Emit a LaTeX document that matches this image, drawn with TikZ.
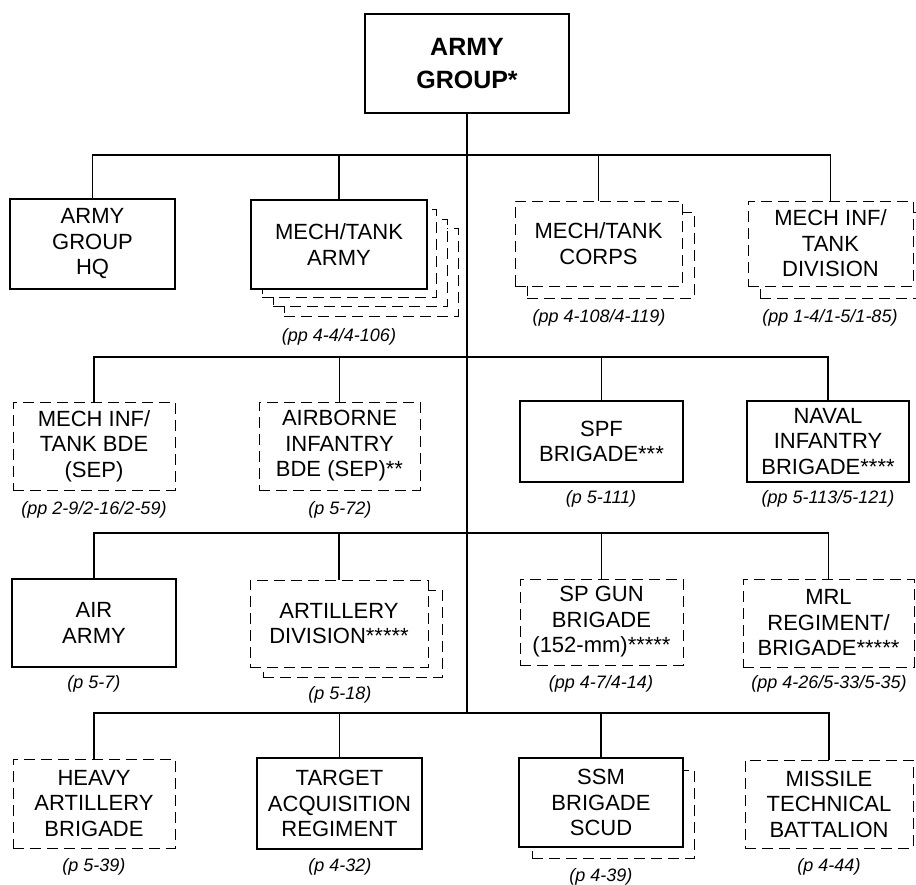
\documentclass[tikz,border=0pt]{standalone}
\usepackage{fontspec}
\setmainfont{Liberation Sans}
\newcommand{\bx}[7]{\node[#1, minimum width={#5-#3}, minimum height={#6-#4}] (#2) at ({(#3+#5)/2},{(#4+#6)/2}) {#7};}
\begin{document}
\begin{tikzpicture}[x=1pt,y=-1pt,
  solidbox/.style={draw, line width=1.8pt, fill=white, align=center, inner sep=0pt, font=\fontsize{22}{25.5}\selectfont},
  dashbox/.style={draw, line width=0.9pt, dash pattern=on 11pt off 6pt, fill=white, align=center, inner sep=0pt, font=\fontsize{22}{25.5}\selectfont},
  shadowbox/.style={draw, line width=0.9pt, dash pattern=on 11pt off 6pt, fill=white, inner sep=0pt},
  topbox/.style={draw, line width=1.8pt, fill=white, align=center, inner sep=0pt, font=\fontsize{25}{33}\selectfont\bfseries},
  lbl/.style={font=\fontsize{18}{20}\selectfont\itshape, inner sep=0pt},
  conn/.style={line width=1.8pt}]
\useasboundingbox (0,0) rectangle (916,884);
\fill[white] (0,0) rectangle (916,884);

% top
\bx{topbox}{top}{365}{14}{569}{113}{ARMY\\GROUP*}

% row 1
\bx{solidbox}{hq}{10}{199}{175}{289}{ARMY\\GROUP\\HQ}
\bx{shadowbox}{armys3}{284}{228}{458}{316}{}
\bx{shadowbox}{armys2}{273}{219}{447}{306}{}
\bx{shadowbox}{armys1}{262}{209}{436}{297}{}
\bx{solidbox}{army}{251}{200}{427}{289}{MECH/TANK\\ARMY}
\bx{shadowbox}{corpss}{527}{212}{694}{298}{}
\bx{dashbox}{corps}{515}{201}{682}{286}{MECH/TANK\\CORPS}
\bx{shadowbox}{divs}{760}{212}{925}{298}{}
\bx{dashbox}{div}{748}{201}{913}{286}{MECH INF/\\TANK\\DIVISION}
\node[lbl] (armyl) at (339,337) {(pp 4-4/4-106)};
\node[lbl] (corpsl) at (599,318) {(pp 4-108/4-119)};
\node[lbl] (divl) at (830,318) {(pp 1-4/1-5/1-85)};

% row 2
\bx{dashbox}{mib}{13}{402}{175}{490}{MECH INF/\\TANK BDE\\(SEP)}
\bx{dashbox}{abn}{259}{402}{420}{490}{AIRBORNE\\INFANTRY\\BDE (SEP)**}
\bx{solidbox}{spf}{520}{401}{683}{482}{SPF\\BRIGADE***}
\bx{solidbox}{naval}{747}{401}{909}{482}{NAVAL\\INFANTRY\\BRIGADE****}
\node[lbl] (mibl) at (94,510) {(pp 2-9/2-16/2-59)};
\node[lbl] (abnl) at (340,510) {(p 5-72)};
\node[lbl] (spfl) at (601,499) {(p 5-111)};
\node[lbl] (navall) at (828,499) {(pp 5-113/5-121)};

% row 3
\bx{solidbox}{air}{12}{579}{176}{667}{AIR\\ARMY}
\bx{shadowbox}{arts}{263}{590}{442}{677}{}
\bx{dashbox}{art}{250}{580}{428}{667}{ARTILLERY\\DIVISION*****}
\bx{dashbox}{spg}{520}{579}{683}{665}{SP GUN\\BRIGADE\\(152-mm)*****}
\bx{dashbox}{mrl}{743}{579}{914}{667}{MRL\\REGIMENT/\\BRIGADE*****}
\node[lbl] (airl) at (94,684) {(p 5-7)};
\node[lbl] (artl) at (340,695) {(p 5-18)};
\node[lbl] (spgl) at (601,684) {(pp 4-7/4-14)};
\node[lbl] (mrll) at (829,684) {(pp 4-26/5-33/5-35)};

% row 4
\bx{dashbox}{hab}{13}{759}{175}{848}{HEAVY\\ARTILLERY\\BRIGADE}
\bx{solidbox}{tar}{257}{758}{422}{849}{TARGET\\ACQUISITION\\REGIMENT}
\bx{shadowbox}{ssms}{532}{770}{694}{858}{}
\bx{solidbox}{ssm}{519}{758}{683}{847}{SSM\\BRIGADE\\SCUD}
\bx{dashbox}{mtb}{745}{760}{913}{848}{MISSILE\\TECHNICAL\\BATTALION}
\node[lbl] (habl) at (94,867) {(p 5-39)};
\node[lbl] (tarl) at (340,867) {(p 4-32)};
\node[lbl] (ssml) at (601,877) {(p 4-39)};
\node[lbl] (mtbl) at (829,867) {(p 4-44)};

% connectors
\coordinate (bus1) at (467,155);
\coordinate (bus2) at (467,357);
\coordinate (bus3) at (467,533);
\coordinate (bus4) at (467,713);
\draw[conn] (top.south) -- (bus4);
\draw[conn] (hq.north) -- (hq.north |- bus1) -- (div.north |- bus1) -- (div.north);
\draw[conn] (army.north) -- (army.north |- bus1);
\draw[conn] (corps.north) -- (corps.north |- bus1);
\draw[conn] (mib.north) -- (mib.north |- bus2) -- (naval.north |- bus2) -- (naval.north);
\draw[conn] (abn.north) -- (abn.north |- bus2);
\draw[conn] (spf.north) -- (spf.north |- bus2);
\draw[conn] (air.north) -- (air.north |- bus3) -- (mrl.north |- bus3) -- (mrl.north);
\draw[conn] (art.north) -- (art.north |- bus3);
\draw[conn] (spg.north) -- (spg.north |- bus3);
\draw[conn] (hab.north) -- (hab.north |- bus4) -- (mtb.north |- bus4) -- (mtb.north);
\draw[conn] (tar.north) -- (tar.north |- bus4);
\draw[conn] (ssm.north) -- (ssm.north |- bus4);
\end{tikzpicture}
\end{document}
